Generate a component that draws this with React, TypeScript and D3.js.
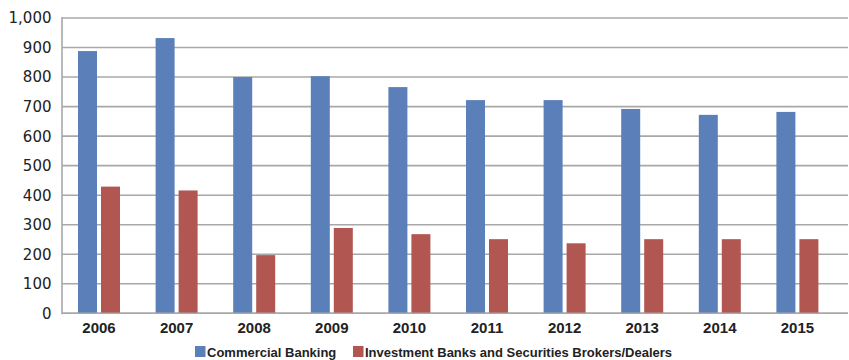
import React from "react";
import * as d3 from "d3";

const years = ["2006", "2007", "2008", "2009", "2010", "2011", "2012", "2013", "2014", "2015"];
const commercialBanking = [888, 932, 800, 803, 766, 722, 722, 692, 672, 682];
const investmentBanks = [429, 416, 197, 289, 268, 251, 237, 251, 251, 251];
const seriesNames = ["Commercial Banking", "Investment Banks and Securities Brokers/Dealers"];
const seriesColors = ["#5b80b9", "#b15651"];
const yTicks = [0, 100, 200, 300, 400, 500, 600, 700, 800, 900, 1000];

export default function App() {
  const width = 849;
  const height = 360;
  const plotLeft = 62;
  const plotRight = 848;
  const y = d3.scaleLinear().domain([0, 1000]).range([313.3, 18]);
  const x = d3.scaleBand<string>().domain(years).range([60.2, 836.2]).paddingInner(0).paddingOuter(0);
  const sub = d3
    .scaleBand<string>()
    .domain(["cb", "ib"])
    .range([17.8, 59.8])
    .paddingInner(2 - 42 / 23)
    .paddingOuter(0);
  const fmt = d3.format(",");
  const series = [commercialBanking, investmentBanks];
  const keys = ["cb", "ib"];

  return (
    <svg
      width={width}
      height={height}
      style={{ position: "absolute", left: 0, top: 0, background: "#fff" }}
    >
      {yTicks.map((t) => (
        <line
          key={"g" + t}
          x1={plotLeft}
          x2={plotRight}
          y1={y(t)}
          y2={y(t)}
          stroke="#a8a8a8"
          strokeWidth={1.6}
        />
      ))}
      <line x1={plotLeft} x2={plotLeft} y1={y(1000) - 1} y2={y(0) + 1} stroke="#a8a8a8" strokeWidth={1.6} />
      {yTicks.map((t) => (
        <text
          key={"t" + t}
          x={51.5}
          y={y(t)}
          dy="0.36em"
          textAnchor="end"
          fontFamily="DejaVu Sans, Verdana, sans-serif"
          fontSize={15}
          fill="#222"
        >
          {fmt(t)}
        </text>
      ))}
      {series.map((vals, si) =>
        vals.map((v, i) => {
          const bx = (x(years[i]) as number) + (sub(keys[si]) as number);
          return (
            <rect
              key={si + "-" + i}
              x={bx}
              y={y(v)}
              width={sub.bandwidth()}
              height={y(0) - y(v)}
              fill={seriesColors[si]}
            />
          );
        })
      )}
      <line x1={plotLeft} x2={plotRight} y1={y(0)} y2={y(0)} stroke="#a8a8a8" strokeWidth={1.6} />
      {years.map((yr) => (
        <text
          key={"x" + yr}
          x={(x(yr) as number) + x.bandwidth() / 2}
          y={332.5}
          textAnchor="middle"
          fontFamily="Liberation Sans, Arial, sans-serif"
          fontWeight="bold"
          fontSize={15}
          fill="#222"
        >
          {yr}
        </text>
      ))}
      <g>
        <rect x={195} y={346} width={10.5} height={11} fill={seriesColors[0]} />
        <text
          x={207}
          y={356.5}
          fontFamily="Liberation Sans, Arial, sans-serif"
          fontWeight="bold"
          fontSize={13}
          fill="#222"
        >
          {seriesNames[0]}
        </text>
        <rect x={353} y={346} width={10.5} height={11} fill={seriesColors[1]} />
        <text
          x={365}
          y={356.5}
          fontFamily="Liberation Sans, Arial, sans-serif"
          fontWeight="bold"
          fontSize={13}
          fill="#222"
        >
          {seriesNames[1]}
        </text>
      </g>
    </svg>
  );
}
